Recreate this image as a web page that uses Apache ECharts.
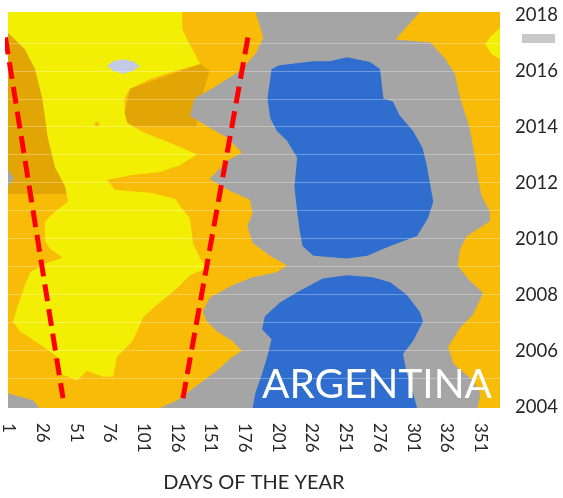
<!DOCTYPE html>
<html>
<head>
<meta charset="utf-8">
<title>ARGENTINA</title>
<script src="https://cdn.jsdelivr.net/npm/echarts@6.0.0/dist/echarts.min.js"></script>
<style>
  html, body { margin: 0; padding: 0; background: #fff; }
  #chart { width: 563px; height: 498px; }
</style>
</head>
<body>
<div id="chart"></div>
<script>
  // axis ticks
  const dayTicks = [1, 26, 51, 76, 101, 126, 151, 176, 201, 226, 251, 276, 301, 326, 351]
  const yearTicks = [2004, 2006, 2008, 2010, 2012, 2014, 2016, 2018]
  const yearLines = [2005, 2006, 2007, 2008, 2009, 2010, 2011, 2012, 2013, 2014, 2015, 2016, 2017]

  // zones, [day, year]
  const amberLeft = [[0.5, 2017.36], [45, 2017.36], [50, 2011.6], [0.5, 2011.6]]
  const amberMid = [[143, 2016.24], [91, 2015.36], [87, 2014.48], [89, 2014.0], [140, 2014.0], [145, 2015.2], [150, 2016.0]]
  const grayZone = [
    [184, 2018.1], [306, 2018.1], [288, 2017.12], [314, 2017.01], [325, 2016.41], [332, 2015.89],
    [336, 2015.01], [343, 2013.96], [347, 2012.9], [349, 2012.2], [352, 2011.5], [358, 2010.97],
    [358, 2010.62], [341, 2010.1], [336, 2009.64], [334, 2009.04], [343, 2008.51], [353, 2008.06],
    [345.5, 2007.29], [336, 2006.83], [327, 2006.13], [331, 2005.53], [345.5, 2004.93], [351, 2004.48],
    [349, 2003.95], [113, 2003.95], [126, 2004.23], [143, 2004.83], [155.5, 2005.28], [167, 2005.78],
    [174, 2005.99], [167, 2006.34], [155.5, 2006.69], [148, 2007.04], [145, 2007.39], [150, 2007.88],
    [167, 2008.34], [182, 2008.62], [200, 2008.8], [207.5, 2009.04], [195, 2009.39], [182, 2009.85],
    [178, 2010.45], [182, 2010.9], [180, 2011.39], [164, 2011.74], [150, 2012.13], [164, 2012.8],
    [174, 2013.08], [163, 2013.61], [135.5, 2014.38], [139, 2015.01], [154, 2015.43], [172.6, 2015.99],
    [184, 2016.59], [190, 2017.19]
  ]
  const grayEdge = [[0.5, 2012.45], [5, 2012.17], [0.5, 2011.85]]
  const grayCorner = [[0.5, 2004.48], [19, 2004.23], [24, 2003.95], [0.5, 2003.95]]
  const blueUpper = [
    [196, 2016.06], [202, 2016.2], [227, 2016.34], [239, 2016.34], [252, 2016.48], [269, 2016.31],
    [276.5, 2016.06], [279, 2015.01], [286, 2014.9], [291, 2014.41], [301, 2013.85], [308, 2013.25],
    [311, 2012.66], [313.6, 2011.96], [316, 2011.32], [312, 2010.73], [304, 2010.1], [284, 2009.74],
    [267, 2009.39], [252, 2009.29], [227, 2009.39], [219, 2009.74], [217, 2010.27], [215, 2010.97],
    [213, 2011.85], [215, 2012.9], [207.5, 2013.5], [200, 2013.85], [195, 2014.31], [193, 2015.01],
    [195, 2015.71]
  ]
  const blueLower = [
    [202, 2007.71], [215, 2008.09], [234, 2008.58], [252, 2008.69], [271, 2008.62], [284, 2008.44],
    [296.5, 2007.99], [306, 2007.39], [308.4, 2007.04], [301, 2006.34], [293.5, 2005.88], [296.5, 2005.18],
    [301, 2004.48], [304, 2003.95], [182, 2003.95], [184, 2004.48], [189, 2005.18], [193.4, 2005.88],
    [196, 2006.41], [189, 2006.76], [191, 2007.22]
  ]
  const yellowZone = [
    [0.5, 2018.1], [129.6, 2018.1], [130, 2017.47], [135.5, 2016.94], [143, 2016.24], [124.4, 2015.99],
    [106, 2015.71], [91, 2015.36], [87, 2015.01], [87, 2014.48], [89, 2014.13], [102, 2013.78],
    [120.7, 2013.43], [140.7, 2013.01], [128, 2012.62], [113, 2012.38], [91, 2012.27], [74, 2012.1],
    [80, 2011.74], [106, 2011.64], [124.4, 2011.43], [129.6, 2011.08], [135.5, 2010.73], [137.7, 2009.85],
    [143, 2009.29], [148, 2008.94], [135.5, 2008.69], [126, 2008.23], [111, 2007.64], [101, 2007.2],
    [93, 2006.34], [81.4, 2005.78], [78.4, 2005.07], [71, 2005.07], [59, 2005.28], [51.7, 2004.93],
    [39, 2005.18], [37, 2005.78], [24, 2006.23], [9.4, 2006.69], [4.2, 2007.04], [8, 2007.64],
    [13, 2008.34], [17, 2008.8], [28, 2009.11], [41, 2009.32], [31.7, 2009.64], [28, 2009.92],
    [28, 2010.62], [35.4, 2010.97], [45, 2011.32], [43, 2011.85], [35.4, 2012.55], [30, 2013.61],
    [26, 2015.01], [20.5, 2016.06], [13, 2016.77], [0.5, 2017.36]
  ]
  const yellowEdge = [[365.5, 2017.54], [358, 2017.19], [354.5, 2016.94], [359.5, 2016.59], [365.5, 2016.41]]
  const goldDot = [[64.3, 2014.1], [66.5, 2014.2], [68.7, 2014.1], [66.5, 2013.99]]
  const paleBlob = [
    [74, 2016.17], [78.4, 2016.34], [85.8, 2016.41], [93.2, 2016.34], [98.4, 2016.17],
    [93.2, 2016.0], [85.8, 2015.89], [78.4, 2016.0]
  ]

  // red dashed guides
  const leftTrend = [[-1.4, 2017.19], [41.3, 2004.3]]
  const rightTrend = [[178.5, 2017.19], [130.3, 2004.3]]

  const zoneSeries = (name, points, color, extra) => {
    return Object.assign({
      name: name,
      type: 'custom',
      silent: true,
      data: points,
      renderItem: (params, api) => {
        if (params.dataIndex !== 0) return
        return {
          type: 'polygon',
          shape: { points: points.map((p) => api.coord(p)) },
          style: { fill: color }
        }
      }
    }, extra || {})
  }

  const trendSeries = (name, points) => {
    return {
      name: name,
      type: 'line',
      data: points,
      symbol: 'none',
      clip: false,
      silent: true,
      z: 10,
      lineStyle: { color: '#ff0000', width: 5, type: [17, 8], cap: 'butt' }
    }
  }

  const myChart = echarts.init(document.getElementById('chart'))

  const option = {
    animation: false,
    grid: {
      left: 8,
      right: 63,
      top: 12,
      bottom: 83,
      show: true,
      borderWidth: 0,
      backgroundColor: '#f8bb08'
    },
    xAxis: {
      type: 'value',
      min: 0.5,
      max: 365.5,
      name: 'DAYS OF THE YEAR',
      nameLocation: 'middle',
      nameGap: 65,
      nameTextStyle: { fontFamily: 'Lato', fontSize: 20, color: '#262626' },
      axisLine: { show: false },
      axisTick: { show: false },
      splitLine: { show: false },
      axisLabel: {
        customValues: dayTicks,
        rotate: -90,
        margin: 15,
        fontFamily: 'Lato',
        fontSize: 17,
        color: '#262626',
        formatter: (v) => String(v)
      }
    },
    yAxis: {
      type: 'value',
      position: 'right',
      min: 2003.95,
      max: 2018.1,
      axisLine: { show: false },
      axisTick: { show: false },
      splitLine: { show: false },
      axisLabel: {
        customValues: yearTicks,
        margin: 15,
        fontFamily: 'Lato',
        fontSize: 18.5,
        color: '#262626',
        formatter: (v) => String(v)
      }
    },
    graphic: [
      {
        type: 'rect',
        shape: { x: 522, y: 34, width: 33, height: 9 },
        style: { fill: '#c8c8c8' }
      },
      {
        type: 'text',
        left: 262,
        top: 364,
        z: 20,
        style: { text: 'ARGENTINA', fontFamily: 'Lato', fontSize: 40.5, fill: '#ffffff' }
      }
    ],
    series: [
      zoneSeries('amberLeft', amberLeft, '#e2a506'),
      zoneSeries('amberMid', amberMid, '#e2a506'),
      zoneSeries('gray', grayZone, '#a5a5a5'),
      zoneSeries('grayEdge', grayEdge, '#a5a5a5'),
      zoneSeries('grayCorner', grayCorner, '#a5a5a5'),
      zoneSeries('blueUpper', blueUpper, '#2f6ecf'),
      zoneSeries('blueLower', blueLower, '#2f6ecf'),
      zoneSeries('yellow', yellowZone, '#f2ef05'),
      zoneSeries('yellowEdge', yellowEdge, '#f2ef05'),
      zoneSeries('goldDot', goldDot, '#f8bb08'),
      zoneSeries('paleBlob', paleBlob, '#c3cae6', {
        markLine: {
          silent: true,
          symbol: 'none',
          label: { show: false },
          lineStyle: { color: 'rgba(255,255,255,0.3)', width: 1, type: 'solid' },
          data: yearLines.map((y) => ({ yAxis: y }))
        }
      }),
      trendSeries('left', leftTrend),
      trendSeries('right', rightTrend)
    ]
  }

  myChart.setOption(option)
</script>
</body>
</html>
